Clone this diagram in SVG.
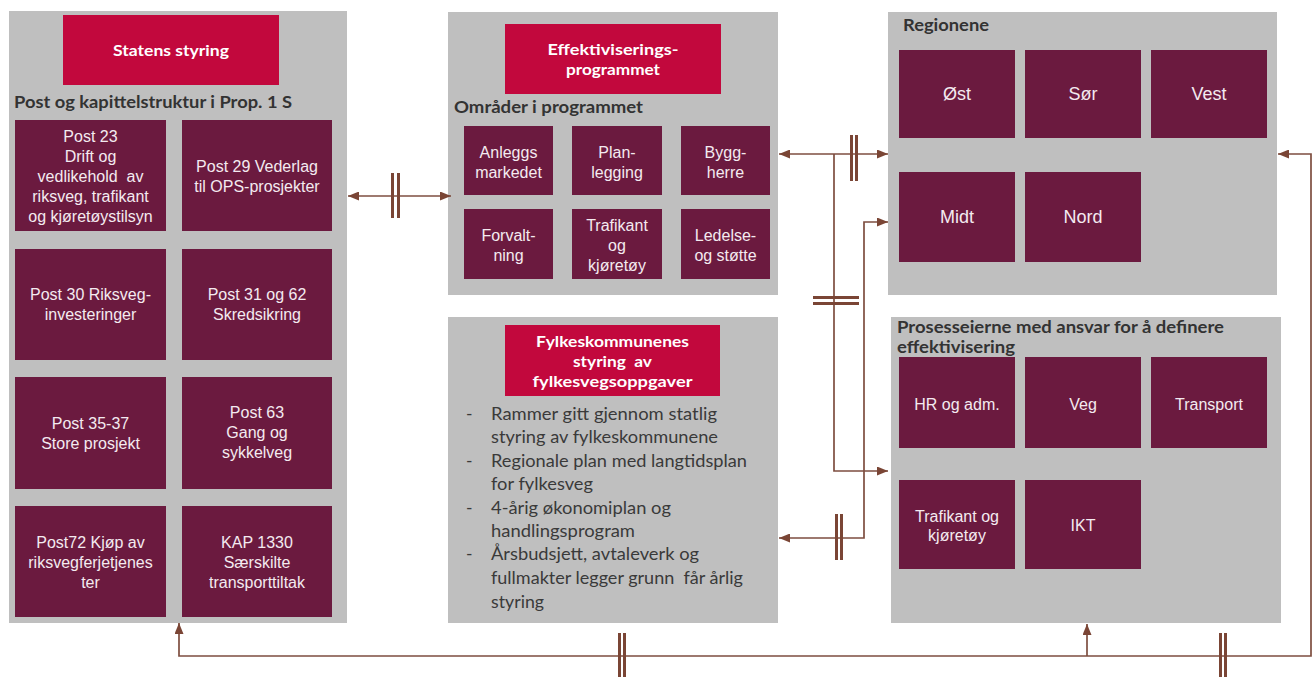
<svg xmlns="http://www.w3.org/2000/svg" width="1315" height="677" viewBox="0 0 1315 677">
<style>
.panel{fill:#BFBFBF}
.red{fill:#C2083D}
.box{fill:#6B1A3F}
.bt{font-family:"Liberation Sans",Arial,sans-serif;font-size:16px;fill:#F4EAF0;text-anchor:middle}
.bt16{font-family:"Liberation Sans",Arial,sans-serif;font-size:16px;fill:#F4EAF0;text-anchor:middle}
.bt18{font-family:"Liberation Sans",Arial,sans-serif;font-size:18px;fill:#F4EAF0;text-anchor:middle}
.rt{font-family:Lato,"Open Sans",sans-serif;font-weight:bold;font-size:16px;fill:#FFFFFF;text-anchor:middle}
.hd{font-family:Lato,"Open Sans",sans-serif;font-weight:bold;font-size:17px;fill:#333333}
.bl{font-family:Lato,"Open Sans",sans-serif;font-size:17.5px;fill:#3A3A3A}
.ln{fill:none;stroke:#7E4E40;stroke-width:1.7}
.bar{fill:#7A4535}
</style>
<defs>
<marker id="ah" viewBox="0 0 11 9" refX="11" refY="4.5" markerWidth="11" markerHeight="9" markerUnits="userSpaceOnUse" orient="auto-start-reverse">
<path d="M0,0 L11,4.5 L0,9 z" fill="#7A4535"/>
</marker>
</defs>

<g id="statens-styring">
<rect class="panel" x="9" y="11" width="338" height="612"/>
<rect class="red" x="63" y="15" width="216" height="70"/>
<text class="rt" x="171" y="56" textLength="116" lengthAdjust="spacingAndGlyphs">Statens styring</text>
<text class="hd" x="14" y="108" textLength="278" lengthAdjust="spacingAndGlyphs">Post og kapittelstruktur i Prop. 1 S</text>
<rect class="box" x="15" y="120" width="151" height="111"/>
<text class="bt" x="90.5" y="142">Post 23<tspan x="90.5" dy="20">Drift og</tspan><tspan x="90.5" dy="20">vedlikehold&#160; av</tspan><tspan x="90.5" dy="20">riksveg, trafikant</tspan><tspan x="90.5" dy="20">og kjøretøystilsyn</tspan></text>
<rect class="box" x="182" y="120" width="150" height="111"/>
<text class="bt" x="257" y="172">Post 29 Vederlag<tspan x="257" dy="20">til OPS-prosjekter</tspan></text>
<rect class="box" x="15" y="249" width="151" height="111"/>
<text class="bt" x="90.5" y="300">Post 30 Riksveg-<tspan x="90.5" dy="20">investeringer</tspan></text>
<rect class="box" x="182" y="249" width="150" height="111"/>
<text class="bt" x="257" y="300">Post 31 og 62<tspan x="257" dy="20">Skredsikring</tspan></text>
<rect class="box" x="15" y="377" width="151" height="112"/>
<text class="bt" x="90.5" y="429">Post 35-37<tspan x="90.5" dy="20">Store prosjekt</tspan></text>
<rect class="box" x="182" y="377" width="150" height="112"/>
<text class="bt" x="257" y="418">Post 63<tspan x="257" dy="20">Gang og</tspan><tspan x="257" dy="20">sykkelveg</tspan></text>
<rect class="box" x="15" y="506" width="151" height="111"/>
<text class="bt" x="90.5" y="548">Post72 Kjøp av<tspan x="90.5" dy="20">riksvegferjetjenes</tspan><tspan x="90.5" dy="20">ter</tspan></text>
<rect class="box" x="182" y="506" width="150" height="111"/>
<text class="bt" x="257" y="548">KAP 1330<tspan x="257" dy="20">Særskilte</tspan><tspan x="257" dy="20">transporttiltak</tspan></text>
</g>

<g id="effektiviseringsprogrammet">
<rect class="panel" x="448" y="12" width="330" height="283"/>
<rect class="red" x="505" y="24" width="216" height="70"/>
<text class="rt" x="613" y="55" textLength="131" lengthAdjust="spacingAndGlyphs">Effektiviserings-</text>
<text class="rt" x="613" y="75" textLength="94" lengthAdjust="spacingAndGlyphs">programmet</text>
<text class="hd" x="454" y="113" textLength="189" lengthAdjust="spacingAndGlyphs">Områder i programmet</text>
<rect class="box" x="464" y="126" width="89" height="69"/>
<text class="bt16" x="508.5" y="158">Anleggs<tspan x="508.5" dy="20">markedet</tspan></text>
<rect class="box" x="572" y="126" width="90" height="69"/>
<text class="bt16" x="617" y="158">Plan-<tspan x="617" dy="20">legging</tspan></text>
<rect class="box" x="681" y="126" width="89" height="69"/>
<text class="bt16" x="725.5" y="158">Bygg-<tspan x="725.5" dy="20">herre</tspan></text>
<rect class="box" x="464" y="209" width="89" height="70"/>
<text class="bt16" x="508.5" y="241">Forvalt-<tspan x="508.5" dy="20">ning</tspan></text>
<rect class="box" x="572" y="209" width="90" height="70"/>
<text class="bt16" x="617" y="231">Trafikant<tspan x="617" dy="20">og</tspan><tspan x="617" dy="20">kjøretøy</tspan></text>
<rect class="box" x="681" y="209" width="89" height="70"/>
<text class="bt16" x="725.5" y="241">Ledelse-<tspan x="725.5" dy="20">og støtte</tspan></text>
</g>

<g id="fylkeskommunenes-styring">
<rect class="panel" x="448" y="317" width="330" height="306"/>
<rect class="red" x="505" y="325" width="215" height="71"/>
<text class="rt" x="612.5" y="347" textLength="153" lengthAdjust="spacingAndGlyphs">Fylkeskommunenes</text>
<text class="rt" x="612.5" y="367" textLength="79" lengthAdjust="spacingAndGlyphs">styring&#160; av</text>
<text class="rt" x="612.5" y="387" textLength="160" lengthAdjust="spacingAndGlyphs">fylkesvegsoppgaver</text>
<text class="bl" x="466" y="420">-</text>
<text class="bl" x="491" y="420" textLength="226" lengthAdjust="spacingAndGlyphs">Rammer gitt gjennom statlig</text>
<text class="bl" x="491" y="443" textLength="227" lengthAdjust="spacingAndGlyphs">styring av fylkeskommunene</text>
<text class="bl" x="466" y="467">-</text>
<text class="bl" x="491" y="467" textLength="256" lengthAdjust="spacingAndGlyphs">Regionale plan med langtidsplan</text>
<text class="bl" x="491" y="490" textLength="102" lengthAdjust="spacingAndGlyphs">for fylkesveg</text>
<text class="bl" x="466" y="514">-</text>
<text class="bl" x="491" y="514" textLength="180" lengthAdjust="spacingAndGlyphs">4-årig økonomiplan og</text>
<text class="bl" x="491" y="537" textLength="144" lengthAdjust="spacingAndGlyphs">handlingsprogram</text>
<text class="bl" x="466" y="560">-</text>
<text class="bl" x="491" y="560" textLength="208" lengthAdjust="spacingAndGlyphs">Årsbudsjett, avtaleverk og</text>
<text class="bl" x="491" y="584" textLength="252" lengthAdjust="spacingAndGlyphs">fullmakter legger grunn&#160; får årlig</text>
<text class="bl" x="491" y="608" textLength="53" lengthAdjust="spacingAndGlyphs">styring</text>
</g>

<g id="regionene">
<rect class="panel" x="888" y="12" width="389" height="283"/>
<text class="hd" x="903" y="31" textLength="86" lengthAdjust="spacingAndGlyphs">Regionene</text>
<rect class="box" x="899" y="50" width="116" height="88"/>
<text class="bt18" x="957" y="100">Øst</text>
<rect class="box" x="1025" y="50" width="116" height="88"/>
<text class="bt18" x="1083" y="100">Sør</text>
<rect class="box" x="1151" y="50" width="116" height="88"/>
<text class="bt18" x="1209" y="100">Vest</text>
<rect class="box" x="899" y="172" width="116" height="90"/>
<text class="bt18" x="957" y="223">Midt</text>
<rect class="box" x="1025" y="172" width="116" height="90"/>
<text class="bt18" x="1083" y="223">Nord</text>
</g>

<g id="prosesseierne">
<rect class="panel" x="891" y="317" width="390" height="306"/>
<text class="hd" x="897" y="333" textLength="327" lengthAdjust="spacingAndGlyphs">Prosesseierne med ansvar for å definere</text>
<text class="hd" x="897" y="353" textLength="118" lengthAdjust="spacingAndGlyphs">effektivisering</text>
<rect class="box" x="899" y="357" width="116" height="91"/>
<text class="bt16" x="957" y="410">HR og adm.</text>
<rect class="box" x="1025" y="357" width="116" height="91"/>
<text class="bt16" x="1083" y="410">Veg</text>
<rect class="box" x="1151" y="357" width="116" height="91"/>
<text class="bt16" x="1209" y="410">Transport</text>
<rect class="box" x="899" y="480" width="116" height="89"/>
<text class="bt16" x="957" y="522">Trafikant og<tspan x="957" dy="19">kjøretøy</tspan></text>
<rect class="box" x="1025" y="480" width="116" height="89"/>
<text class="bt16" x="1083" y="531">IKT</text>
</g>

<g id="connectors">
<path class="ln" d="M348,196 H451" marker-start="url(#ah)" marker-end="url(#ah)"/>
<rect class="bar" x="391" y="173" width="3" height="45"/>
<rect class="bar" x="397" y="173" width="3" height="45"/>

<path class="ln" d="M779,154 H888" marker-start="url(#ah)" marker-end="url(#ah)"/>
<path class="ln" d="M834,154 V471 H888" marker-end="url(#ah)"/>
<rect class="bar" x="850" y="135" width="3" height="46"/>
<rect class="bar" x="855" y="135" width="3" height="46"/>

<path class="ln" d="M888,222 H864 V538 H779" marker-start="url(#ah)" marker-end="url(#ah)"/>
<rect class="bar" x="813" y="296" width="46" height="3"/>
<rect class="bar" x="813" y="302" width="46" height="3"/>
<rect class="bar" x="835" y="514" width="3" height="46"/>
<rect class="bar" x="840" y="514" width="3" height="46"/>

<path class="ln" d="M179,623 V656 H1311 V154 H1278" marker-start="url(#ah)" marker-end="url(#ah)"/>
<path class="ln" d="M1087,656 V624" marker-end="url(#ah)"/>
<rect class="bar" x="618" y="633" width="3" height="44"/>
<rect class="bar" x="623" y="633" width="3" height="44"/>
<rect class="bar" x="1219" y="633" width="3" height="44"/>
<rect class="bar" x="1224" y="633" width="3" height="44"/>
</g>
</svg>
